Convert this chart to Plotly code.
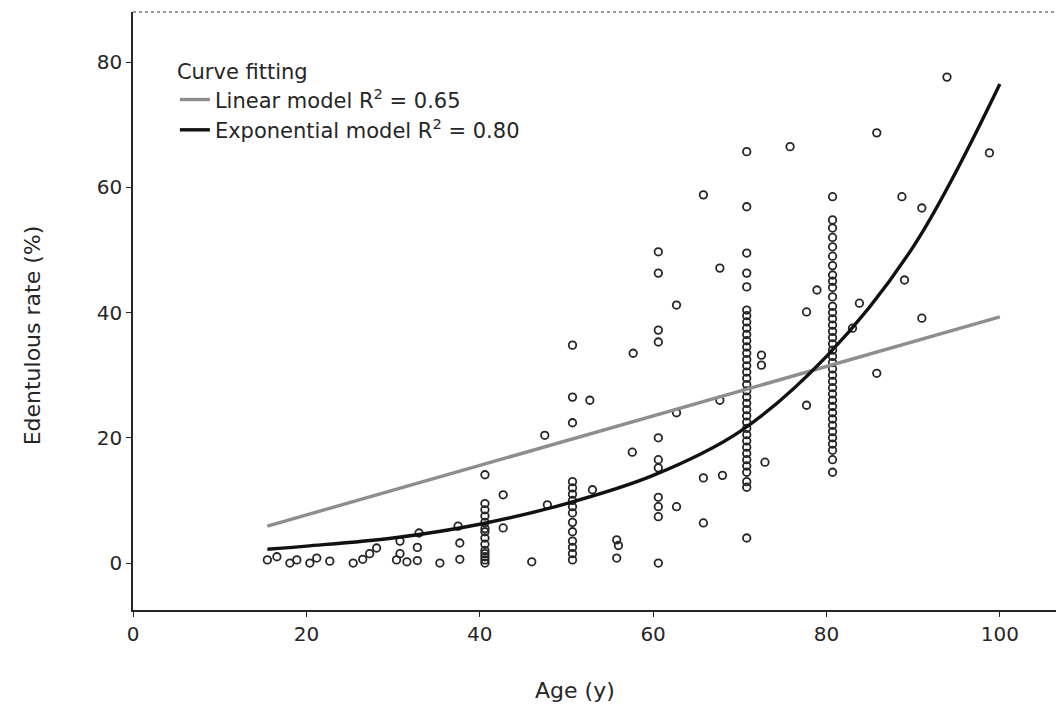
import plotly.graph_objects as go

age_pts = [
    # young adults near zero
    15.5, 16.6, 18.1, 18.9, 20.4, 21.2, 22.7, 25.4, 26.5, 27.3, 28.1,
    30.4, 30.8, 30.8, 31.6, 32.8, 32.8, 33.0, 35.4, 37.5, 37.7, 37.7,
    # age 40 column
    40.6, 40.6, 40.6, 40.6, 40.6, 40.6, 40.6, 40.6, 40.6, 40.6, 40.6, 40.6, 40.6, 40.6,
    42.7, 42.7, 46.0, 47.5, 47.8,
    # age 50 column
    50.7, 50.7, 50.7, 50.7, 50.7, 50.7, 50.7, 50.7, 50.7, 50.7, 50.7, 50.7, 50.7, 50.7, 50.7,
    52.7, 53.0, 55.8, 55.8, 56.0, 57.6, 57.7,
    # age 60 column
    60.6, 60.6, 60.6, 60.6, 60.6, 60.6, 60.6, 60.6, 60.6, 60.6, 60.6,
    62.7, 62.7, 62.7, 65.8, 65.8, 65.8, 67.7, 67.7, 68.0,
    # age 70 column
    70.8, 70.8, 70.8, 70.8, 70.8, 70.8, 70.8, 70.8, 70.8, 70.8, 70.8, 70.8, 70.8, 70.8,
    70.8, 70.8, 70.8, 70.8, 70.8, 70.8, 70.8, 70.8, 70.8, 70.8, 70.8, 70.8, 70.8, 70.8,
    70.8, 70.8, 70.8, 70.8, 70.8, 70.8, 70.8,
    72.5, 72.5, 72.9, 75.8, 77.7, 77.7, 78.9,
    # age 80 column
    80.7, 80.7, 80.7, 80.7, 80.7, 80.7, 80.7, 80.7, 80.7, 80.7, 80.7, 80.7, 80.7, 80.7,
    80.7, 80.7, 80.7, 80.7, 80.7, 80.7, 80.7, 80.7, 80.7, 80.7, 80.7, 80.7, 80.7, 80.7,
    80.7, 80.7, 80.7, 80.7, 80.7, 80.7, 80.7, 80.7, 80.7,
    83.0, 83.8, 85.8, 85.8, 88.7, 89.0, 91.0, 91.0, 93.9, 98.8,
]
rate_pts = [
    0.5, 1.0, 0.0, 0.5, 0.0, 0.8, 0.3, 0.0, 0.6, 1.5, 2.4,
    0.5, 3.5, 1.5, 0.2, 2.5, 0.4, 4.8, 0.0, 5.9, 3.2, 0.6,
    14.1, 9.5, 8.5, 7.5, 6.5, 5.5, 5.0, 4.0, 3.0, 2.0, 1.5, 1.0, 0.5, 0.0,
    10.9, 5.6, 0.2, 20.4, 9.3,
    34.8, 26.5, 22.4, 13.0, 12.0, 11.0, 10.0, 9.0, 8.0, 6.5, 5.0, 3.5, 2.5, 1.5, 0.5,
    26.0, 11.7, 3.7, 0.8, 2.8, 17.7, 33.5,
    49.7, 46.3, 37.2, 35.3, 20.0, 16.5, 15.2, 10.5, 9.0, 7.4, 0.0,
    41.2, 24.0, 9.0, 58.8, 13.6, 6.4, 47.1, 26.0, 14.0,
    65.7, 56.9, 49.5, 46.3, 44.1, 40.4, 39.5, 38.5, 37.5, 36.5, 35.5, 34.5, 33.5, 32.5,
    31.5, 30.5, 29.5, 28.5, 27.5, 26.5, 25.5, 24.5, 23.5, 22.5, 21.5, 20.5, 19.5, 18.5,
    17.5, 16.5, 15.5, 14.5, 13.0, 12.1, 4.0,
    33.2, 31.6, 16.1, 66.5, 40.1, 25.2, 43.6,
    58.5, 54.8, 53.5, 52.0, 50.5, 49.0, 47.5, 46.0, 45.0, 44.0, 42.5, 41.0, 40.0, 39.0,
    38.0, 37.0, 36.0, 35.0, 34.0, 33.0, 32.0, 31.0, 30.0, 29.0, 28.0, 27.0, 26.0, 25.0,
    24.0, 23.0, 22.0, 21.0, 20.0, 19.0, 18.0, 16.5, 14.5,
    37.5, 41.5, 30.3, 68.7, 58.5, 45.2, 56.7, 39.1, 77.6, 65.5,
]

# fitted curves, read at a few ages
linear_age = [15.5, 100]
linear_rate = [5.9, 39.3]
exp_age = [15.5, 20, 30, 40, 50, 60, 70, 80, 90, 100]
exp_rate = [2.2, 2.7, 4.0, 6.2, 9.5, 14.0, 21.0, 33.0, 50.5, 76.5]

x_ticks = [0, 20, 40, 60, 80, 100]
y_ticks = [0, 20, 40, 60, 80]

FONT = "DejaVu Sans, Liberation Sans, Arial, sans-serif"
INK = "#262626"

fig = go.Figure()

fig.add_trace(go.Scatter(
    x=age_pts, y=rate_pts, mode="markers", showlegend=False,
    marker=dict(symbol="circle-open", size=7.5, color=INK,
                line=dict(width=1.8, color=INK)),
))
fig.add_trace(go.Scatter(
    x=linear_age, y=linear_rate, mode="lines",
    name="Linear model R<sup>2</sup> = 0.65",
    line=dict(color="#8e8e8e", width=3.4),
))
fig.add_trace(go.Scatter(
    x=exp_age, y=exp_rate, mode="lines", line_shape="spline",
    name="Exponential model R<sup>2</sup> = 0.80",
    line=dict(color="#111111", width=3.4),
))

# dotted top border, like the rug along the frame
fig.add_shape(type="line", xref="paper", yref="paper", x0=0, x1=1, y0=1, y1=1,
              line=dict(color="#777777", width=1.5, dash="dot"))

# axis titles placed as in the original figure
fig.add_annotation(text="Age (y)", x=51, xref="x", y=-0.134, yref="paper",
                   showarrow=False, xanchor="center", yanchor="middle",
                   font=dict(size=22, color=INK))
fig.add_annotation(text="Edentulous rate (%)", x=-0.108, xref="paper", y=0.46, yref="paper",
                   showarrow=False, textangle=-90, xanchor="center", yanchor="middle",
                   font=dict(size=22, color=INK))

# page has an 8px body margin, so the figure is sized to fit the window
fig.update_layout(
    width=1056, height=700,
    margin=dict(l=125, r=0, t=4, b=98),
    plot_bgcolor="white", paper_bgcolor="white",
    font=dict(family=FONT, size=20, color=INK),
    legend=dict(
        title=dict(text="Curve fitting", font=dict(size=21, color=INK)),
        x=0.045, y=0.933, xanchor="left", yanchor="top",
        bgcolor="rgba(0,0,0,0)", itemwidth=30, tracegroupgap=0,
        font=dict(size=21, color=INK),
    ),
    xaxis=dict(
        range=[0, 107.4], tickvals=x_ticks, showgrid=False, zeroline=False,
        showline=True, linecolor=INK, linewidth=1.6,
        ticks="outside", ticklen=5, tickcolor=INK,
        tickfont=dict(size=20),
    ),
    yaxis=dict(
        range=[-7.5, 88], tickvals=y_ticks, showgrid=False, zeroline=False,
        showline=True, linecolor=INK, linewidth=1.6,
        ticks="outside", ticklen=5, tickcolor=INK,
        tickfont=dict(size=20),
    ),
)

fig.write_html("out.html")
